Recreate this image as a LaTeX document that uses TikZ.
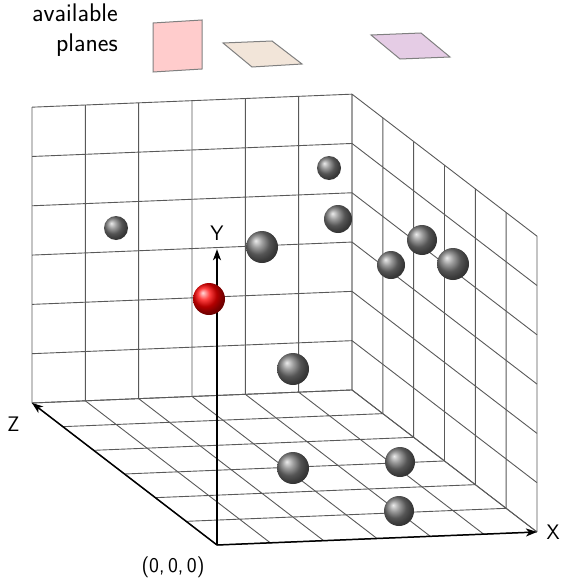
\documentclass[tikz,border=0pt]{standalone}
\usetikzlibrary{positioning,arrows.meta}
\begin{document}
\begin{tikzpicture}[x=1pt,y=-1pt,font=\fontsize{21}{25}\selectfont\sffamily,
  gridline/.style={black!65,line width=0.9pt},
  axis/.style={line width=1.5pt,-{Stealth[length=11pt,width=8pt,inset=3pt]}},
  plane/.style={draw=black!50,line width=1pt}]
  \useasboundingbox (0,0) rectangle (562,578);
  \node[align=right,anchor=north east,inner sep=0pt,font=\fontsize{25.5}{30}\selectfont\sffamily] (avail) at (118,4) {available\\planes};
  \draw[plane,fill=red!20] (153,23) -- (202,20) -- (202,69) -- (153,72) -- cycle;
  \draw[plane,fill=brown!20] (223,43) -- (272,41) -- (302,64) -- (252,67) -- cycle;
  \draw[plane,fill=violet!20] (371,35) -- (421,33) -- (450,57) -- (400,59) -- cycle;
  \begin{scope}[shift={(217,545)},x={(53.33pt,2.17pt)},y={(0pt,49.3pt)},z={(-30.83pt,23.67pt)}]
    \foreach \i in {0,...,6} {
      \draw[gridline] (\i,0,0) -- (\i,0,6) (0,0,\i) -- (6,0,\i);
      \draw[gridline] (\i,0,6) -- (\i,6,6) (0,\i,6) -- (6,\i,6);
      \draw[gridline] (6,0,\i) -- (6,6,\i) (6,\i,0) -- (6,\i,6);
    }
    \coordinate (O) at (0,0,0);
    \coordinate (xend) at (6,0,0);
    \coordinate (yend) at (0,6,0);
    \coordinate (zend) at (0,0,6);
    \draw[axis] (O) -- (xend);
    \draw[axis] (O) -- (yend);
    \draw[axis] (O) -- (zend);
    \node[right=6pt of xend] (xlab) {X};
    \node[above=5pt of yend] (ylab) {Y};
    \node[below left=10pt and 9pt of zend] (zlab) {Z};
    \node[below left=8pt and 9pt of O] (olab) {(0,\,0,\,0)};
  \end{scope}
  \foreach \px/\py/\r in {116/228/12, 262/247/16, 329/168/12, 338/219/14, 391/265/14, 422/240/15,
      453/264/16, 293/369/16, 293/468/16, 400/462/15, 399/511/15}
    \shade[ball color=gray!95!black] (\px,\py) circle (\r);
  \shade[ball color=red] (209,299) circle (16);
\end{tikzpicture}
\end{document}
